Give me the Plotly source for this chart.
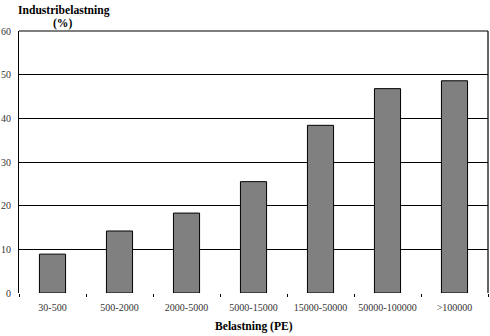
import plotly.graph_objects as go

# Industrial share of load by plant size class
categories = ["30-500", "500-2000", "2000-5000", "5000-15000",
              "15000-50000", "50000-100000", ">100000"]
industri_pct = [8.9, 14.2, 18.3, 25.5, 38.4, 46.8, 48.6]
y_ticks = [0, 10, 20, 30, 40, 50, 60]

serif = "Liberation Serif, Times New Roman, serif"
tick_font = dict(family=serif, size=10, color="#333333")
title_font = dict(family=serif, size=11.6, color="black")

fig = go.Figure(
    go.Bar(
        x=categories,
        y=industri_pct,
        marker=dict(color="#808080", line=dict(color="black", width=1)),
        width=0.39,
    )
)

fig.update_layout(
    width=490,
    height=336,
    margin=dict(l=19, r=2, t=31, b=43),
    plot_bgcolor="white",
    paper_bgcolor="white",
    showlegend=False,
    font=tick_font,
    shapes=[
        # frame on top and right of the plot area
        dict(type="line", xref="paper", yref="paper", x0=0, x1=1, y0=1, y1=1,
             line=dict(color="black", width=1.2)),
        dict(type="line", xref="paper", yref="paper", x0=1, x1=1, y0=0, y1=1,
             line=dict(color="black", width=1.2)),
    ],
    annotations=[
        # y-axis title, two lines placed above the axis
        dict(text="<b>Industribelastning</b>", xref="paper", yref="paper",
             x=0.096, y=1.0, yshift=21, xanchor="center", yanchor="middle",
             showarrow=False, font=title_font),
        dict(text="<b>(%)</b>", xref="paper", yref="paper",
             x=0.092, y=1.0, yshift=8, xanchor="center", yanchor="middle",
             showarrow=False, font=title_font),
        dict(text="<b>Belastning (PE)</b>", xref="paper", yref="paper",
             x=0.5, y=0, yshift=-25, xanchor="center", yanchor="top",
             showarrow=False, font=title_font),
    ],
)

fig.update_xaxes(
    type="category",
    automargin=False,
    tickangle=0,
    showline=False,
    ticks="outside",
    tickson="boundaries",
    ticklen=3,
    tickcolor="black",
    tickwidth=1,
    showgrid=False,
    ticklabelstandoff=7,
    tickfont=tick_font,
)

fig.update_yaxes(
    range=[0, 60],
    tickvals=y_ticks,
    automargin=False,
    showline=True,
    linecolor="black",
    linewidth=1.2,
    showgrid=True,
    gridcolor="black",
    gridwidth=1.2,
    zeroline=False,
    ticks="",
    ticklabelstandoff=5,
    tickfont=tick_font,
)

fig.write_html("out.html")
